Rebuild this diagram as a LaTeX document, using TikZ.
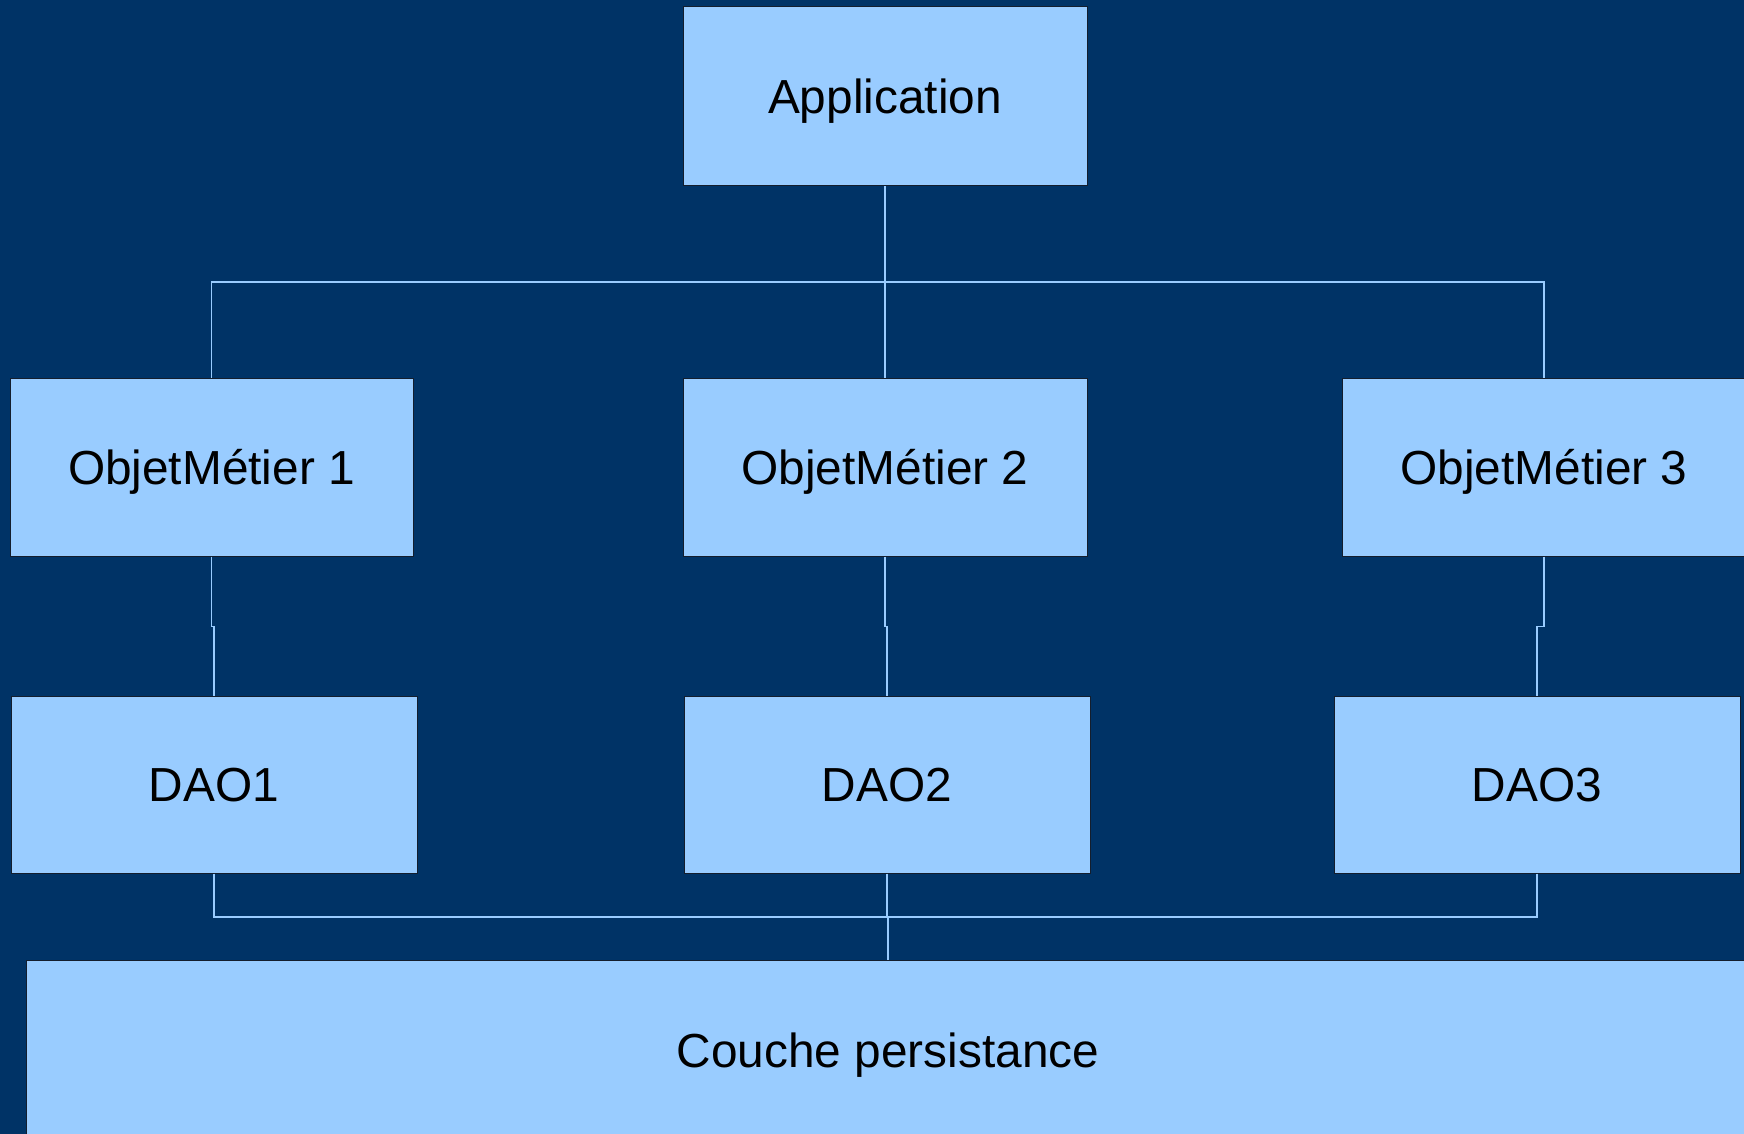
\documentclass[tikz,border=0pt]{standalone}
\usepackage{fontspec}
\setmainfont{Liberation Sans}
\definecolor{navy}{RGB}{0,51,102}
\definecolor{boxfill}{RGB}{153,204,255}
\definecolor{boxline}{RGB}{20,30,45}
\begin{document}
\begin{tikzpicture}[x=1pt,y=-1pt,
  blockbox/.style={draw=boxline, line width=1pt, fill=boxfill, inner sep=0pt,
    minimum height=178pt, font=\fontsize{47.8}{57}\selectfont, text=black,
    text height=34.2pt, text depth=0pt},
  conn/.style={draw=boxfill, line width=1.2pt}]
\useasboundingbox (0,0) rectangle (1744,1134);
\clip (0,0) rectangle (1744,1134);
\fill[navy] (0,0) rectangle (1744,1134);
% nodes
\node[blockbox, minimum width=404pt, minimum height=179pt] (app) at (885,96.5) {Application};
\node[blockbox, minimum width=403pt] (om1) at (211.5,467) {ObjetMétier 1};
\node[blockbox, minimum width=404pt] (om2) at (885,467) {ObjetMétier 2};
\node[blockbox, minimum width=404pt] (om3) at (1544,467) {ObjetMétier 3};
\node[blockbox, minimum width=406pt, minimum height=177pt] (dao1) at (214,784.5) {DAO1};
\node[blockbox, minimum width=406pt, minimum height=177pt] (dao2) at (887,784.5) {DAO2};
\node[blockbox, minimum width=406pt, minimum height=177pt] (dao3) at (1537,784.5) {DAO3};
\node[blockbox, minimum width=1724pt, minimum height=180pt] (pers) at (888,1050) {Couche persistance};
% connectors
\coordinate (bus1) at (885,282);
\coordinate (bus2) at (888,917);
\draw[conn] (app.south) -- (bus1);
\draw[conn] (om1.north) |- (bus1) -| (om3.north);
\draw[conn] (bus1) -- (om2.north);
\draw[conn] (om1.south) -- ++(0,70) -| (dao1.north);
\draw[conn] (om2.south) -- ++(0,70) -| (dao2.north);
\draw[conn] (om3.south) -- ++(0,70) -| (dao3.north);
\draw[conn] (dao1.south) |- (bus2);
\draw[conn] (dao3.south) |- (bus2);
\draw[conn] (dao2.south) |- (bus2);
\draw[conn] (bus2) -- (pers.north);
\end{tikzpicture}
\end{document}
